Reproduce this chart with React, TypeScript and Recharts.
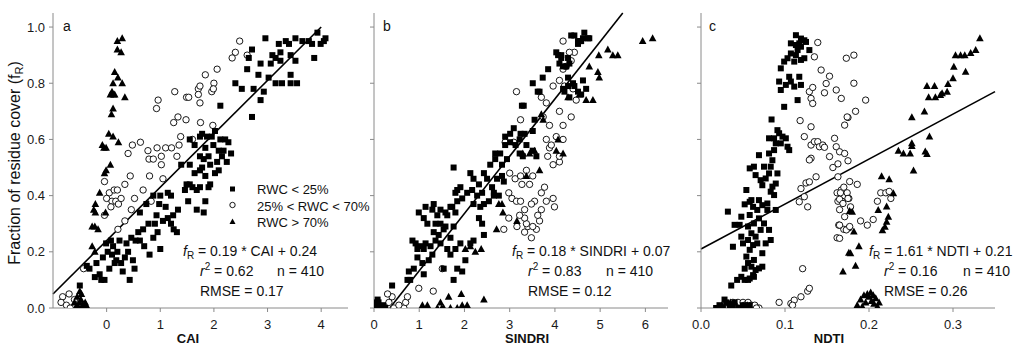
import React from 'react';
import { ScatterChart, Scatter, XAxis, YAxis, ReferenceLine } from 'recharts';

type Pt = [number, number];

// panel a (CAI)
const squaresA: Pt[] = [
  [-0.5, 0.08], [-0.37, 0.15], [-0.32, 0.14], [-0.22, 0.11], [-0.1, 0.1], [-0.04, 0.1], [-0.19, 0.16], [-0.07, 0.18],
  [0.02, 0.2], [0.12, 0.22], [-0.01, 0.23], [0.08, 0.24], [0.18, 0.17], [0.27, 0.16], [0.34, 0.18], [0.24, 0.24],
  [0.37, 0.23], [0.46, 0.25], [0.54, 0.24], [0.59, 0.27], [0.62, 0.24], [0.68, 0.28], [0.78, 0.3], [0.8, 0.19],
  [0.9, 0.3], [1.0, 0.21], [0.87, 0.25], [0.93, 0.33], [1.05, 0.31], [1.14, 0.32], [1.24, 0.33], [1.33, 0.35],
  [1.31, 0.27], [1.2, 0.3], [0.62, 0.34], [0.74, 0.37], [0.87, 0.4], [0.98, 0.37], [1.0, 0.4], [1.14, 0.41],
  [1.2, 0.4], [1.39, 0.51], [1.49, 0.44], [1.52, 0.38], [1.46, 0.42], [1.55, 0.44], [1.6, 0.43], [1.68, 0.42],
  [1.74, 0.43], [1.55, 0.6], [1.64, 0.58], [1.74, 0.61], [1.55, 0.51], [1.64, 0.48], [1.74, 0.49], [1.74, 0.54],
  [1.68, 0.35], [0.43, 0.1], [0.52, 0.14], [0.49, 0.17], [0.3, 0.13], [0.15, 0.16], [-0.13, 0.12], [0.1, 0.19],
  [0.2, 0.2], [0.4, 0.2], [0.7, 0.22], [0.95, 0.27], [1.1, 0.36], [1.25, 0.28], [0.05, 0.14],
  [1.78, 0.62], [1.87, 0.61], [1.96, 0.61], [2.02, 0.63], [2.12, 0.6], [2.21, 0.6], [2.27, 0.59], [1.84, 0.57],
  [1.99, 0.58], [2.09, 0.56], [2.18, 0.56], [2.32, 0.55], [1.81, 0.53], [1.9, 0.54], [2.06, 0.52], [2.15, 0.54],
  [2.24, 0.52], [1.78, 0.5], [1.93, 0.51], [1.84, 0.47], [2.02, 0.48], [1.93, 0.44], [1.9, 0.43], [2.09, 0.49],
  [1.84, 0.38], [1.81, 0.34], [2.12, 0.72], [2.71, 0.68], [2.87, 0.74], [2.93, 0.77], [2.74, 0.78], [3.02, 0.82],
  [2.4, 0.8], [2.52, 0.78], [2.62, 0.85], [2.65, 0.89], [2.87, 0.87], [2.83, 0.83], [2.71, 0.92], [2.96, 0.96],
  [3.09, 0.9], [3.06, 0.87], [3.15, 0.89], [3.24, 0.88], [3.15, 0.8], [3.27, 0.8], [3.43, 0.8], [3.55, 0.8],
  [3.43, 0.83], [3.52, 0.88], [3.43, 0.9], [3.24, 0.91], [3.21, 0.94], [3.4, 0.94], [3.34, 0.95], [3.52, 0.96],
  [3.65, 0.95], [3.77, 0.95], [3.87, 0.89], [3.83, 0.94], [3.93, 0.98], [3.99, 0.94], [4.05, 0.95], [4.08, 0.96],
];
const circlesA: Pt[] = [
  [-0.82, 0.04], [-0.85, 0.02], [-0.75, 0.01], [-0.68, 0.0], [-0.6, 0.03], [-0.7, 0.05], [-0.43, 0.14], [-0.04, 0.45],
  [0.05, 0.41], [0.14, 0.42], [0.2, 0.42], [0.0, 0.39], [0.1, 0.38], [0.17, 0.38], [0.22, 0.37], [0.08, 0.36],
  [-0.04, 0.33], [0.27, 0.39], [0.34, 0.31], [0.21, 0.28], [0.44, 0.47], [0.34, 0.44], [0.52, 0.39], [0.46, 0.35],
  [0.68, 0.42], [0.4, 0.55], [0.48, 0.58], [0.63, 0.59], [0.77, 0.56], [0.79, 0.53], [0.87, 0.53], [0.8, 0.47],
  [0.94, 0.57], [1.1, 0.57], [1.21, 0.57], [1.02, 0.54], [1.02, 0.51], [1.35, 0.58], [1.31, 0.54], [1.38, 0.61],
  [0.93, 0.71], [0.96, 0.74], [1.25, 0.66], [1.33, 0.68], [1.48, 0.67], [1.27, 0.77], [1.49, 0.75], [1.53, 0.75],
  [1.71, 0.78], [1.71, 0.76], [1.74, 0.73], [1.05, 0.46], [0.83, 0.38], [2.48, 0.95], [2.4, 0.91], [2.34, 0.89],
  [2.62, 0.9], [1.84, 0.83], [2.06, 0.85], [2.0, 0.8], [1.96, 0.77], [1.99, 0.78], [1.74, 0.79], [1.98, 0.65],
  [1.6, 0.6], [1.75, 0.66],
];
const trianglesA: Pt[] = [
  [0.29, 0.96], [0.2, 0.95], [0.2, 0.92], [0.27, 0.91], [0.15, 0.84], [0.21, 0.82], [0.29, 0.8], [0.12, 0.8],
  [0.07, 0.76], [0.15, 0.76], [0.34, 0.75], [0.12, 0.71], [0.09, 0.69], [0.04, 0.62], [0.12, 0.61], [0.22, 0.59],
  [-0.08, 0.58], [-0.01, 0.57], [-0.05, 0.57], [0.07, 0.51], [-0.01, 0.49], [-0.04, 0.48], [-0.13, 0.41],
  [-0.21, 0.37], [-0.24, 0.35], [-0.02, 0.34], [-0.21, 0.34], [-0.27, 0.29], [-0.16, 0.28], [-0.22, 0.29],
  [-0.27, 0.22], [-0.22, 0.2], [0.1, 0.77], [0.13, 0.76],
  [-0.6, 0.02], [-0.55, 0.04], [-0.5, 0.06], [-0.48, 0.03], [-0.45, 0.01], [-0.42, 0.0], [-0.52, 0.0], [-0.58, 0.0],
  [-0.47, 0.05], [-0.4, 0.02], [-0.38, 0.01], [-0.55, 0.01], [-0.5, 0.02],
];

// panel b (SINDRI)
const squaresB: Pt[] = [
  [0.02, 0.0], [0.06, 0.01], [0.1, 0.02], [0.15, 0.0], [0.2, 0.01], [0.08, 0.03], [0.0, 0.02], [0.12, 0.0], [0.25, 0.0],
  [0.4, 0.08], [0.74, 0.1], [0.8, 0.1], [0.77, 0.13], [0.88, 0.14], [0.96, 0.18], [1.07, 0.16], [1.1, 0.12],
  [1.1, 0.21], [1.21, 0.17], [1.29, 0.19], [0.96, 0.21], [0.85, 0.24], [0.92, 0.23], [1.03, 0.22], [1.14, 0.23],
  [1.25, 0.22], [1.36, 0.24], [1.32, 0.27], [1.43, 0.26], [1.54, 0.28], [1.47, 0.23], [1.62, 0.21], [1.69, 0.25],
  [1.36, 0.3], [1.47, 0.3], [1.58, 0.29], [1.76, 0.29], [1.29, 0.35], [1.4, 0.33], [1.47, 0.35], [1.62, 0.33],
  [1.73, 0.36], [1.8, 0.34], [0.99, 0.34], [1.1, 0.32], [1.18, 0.3], [1.14, 0.36], [1.32, 0.37], [1.58, 0.34],
  [1.69, 0.36], [1.84, 0.38], [1.95, 0.39], [1.8, 0.41], [1.91, 0.43], [2.06, 0.41], [2.17, 0.42], [2.28, 0.4],
  [2.39, 0.41], [2.2, 0.37], [2.35, 0.36], [2.43, 0.37], [2.32, 0.32], [2.39, 0.3], [2.43, 0.26], [1.8, 0.21],
  [1.91, 0.23], [1.84, 0.14], [1.95, 0.13], [2.02, 0.17], [2.13, 0.23], [2.2, 0.24], [1.69, 0.19], [1.76, 0.1],
  [1.54, 0.14], [1.76, 0.5], [1.84, 0.42], [2.13, 0.48], [2.2, 0.46], [2.32, 0.44], [2.43, 0.48], [2.5, 0.46],
  [2.61, 0.43], [2.65, 0.41], [2.76, 0.4], [2.72, 0.46], [2.83, 0.47], [2.87, 0.45], [2.54, 0.38], [2.65, 0.4],
  [2.57, 0.51], [2.68, 0.53], [2.83, 0.51], [2.94, 0.53], [2.79, 0.55], [2.9, 0.58], [3.01, 0.59], [3.13, 0.58],
  [2.9, 0.61], [3.01, 0.62], [3.09, 0.64], [3.24, 0.62], [3.27, 0.72], [2.68, 0.55],
  [3.22, 0.6], [3.33, 0.62], [3.37, 0.58], [3.29, 0.54], [3.51, 0.56], [3.59, 0.54], [3.22, 0.55], [3.51, 0.63],
  [3.55, 0.67], [3.31, 0.72], [3.51, 0.8], [3.66, 0.77], [3.62, 0.77], [3.73, 0.82], [3.85, 0.85], [4.03, 0.91],
  [4.14, 0.89], [4.1, 0.87], [4.18, 0.86], [4.25, 0.86], [4.29, 0.89], [4.32, 0.87], [4.14, 0.9], [4.07, 0.9],
  [4.36, 0.97], [4.43, 0.97], [4.51, 0.95], [4.58, 0.95], [4.65, 0.98], [4.62, 0.96], [4.73, 0.96], [4.76, 0.96],
  [4.51, 0.94], [4.54, 0.95], [4.29, 0.79], [4.4, 0.8], [4.43, 0.79], [4.51, 0.77], [4.62, 0.81], [4.58, 0.76],
  [4.69, 0.78], [4.18, 0.78], [4.21, 0.77], [4.32, 0.75], [4.29, 0.82],
];
const circlesB: Pt[] = [
  [0.22, 0.0], [0.33, 0.02], [0.4, 0.04], [0.44, 0.0], [0.66, 0.0], [0.7, 0.02], [0.74, 0.04], [0.55, 0.01], [0.3, 0.05],
  [0.99, 0.07], [1.31, 0.06], [1.51, 0.14], [2.87, 0.28], [2.98, 0.32], [3.16, 0.29], [3.15, 0.77], [3.24, 0.67],
  [2.9, 0.59], [3.09, 0.59], [3.0, 0.48], [3.12, 0.46], [3.24, 0.47], [3.27, 0.44], [2.98, 0.41], [3.05, 0.39],
  [3.15, 0.38], [3.24, 0.38],
  [3.48, 0.25], [3.33, 0.27], [3.4, 0.29], [3.59, 0.28], [3.51, 0.29], [3.37, 0.3], [3.66, 0.31], [3.33, 0.32],
  [3.62, 0.33], [3.7, 0.35], [3.81, 0.38], [3.55, 0.38], [3.48, 0.37], [3.7, 0.41], [3.77, 0.43], [3.96, 0.39],
  [3.99, 0.36], [3.33, 0.35], [3.22, 0.33], [3.51, 0.47], [3.44, 0.44], [3.37, 0.49], [3.96, 0.51], [4.1, 0.52],
  [3.84, 0.54], [3.88, 0.57], [4.1, 0.54], [3.81, 0.6], [3.92, 0.58], [4.18, 0.6], [4.03, 0.61], [3.88, 0.65],
  [4.18, 0.65], [4.36, 0.68], [4.1, 0.7], [3.7, 0.75], [3.81, 0.73], [3.74, 0.68], [3.96, 0.79], [4.1, 0.81],
  [4.21, 0.79], [4.4, 0.78], [4.47, 0.74], [4.18, 0.85], [4.25, 0.86], [4.36, 0.88], [4.43, 0.91], [4.18, 0.95],
  [4.32, 0.91],
];
const trianglesB: Pt[] = [
  [1.07, 0.01], [1.18, 0.01], [1.47, 0.02], [1.54, 0.0], [1.65, 0.04], [1.69, 0.0], [1.84, 0.0], [1.93, 0.05],
  [1.95, 0.01], [2.06, 0.01], [2.43, 0.03], [1.4, 0.0], [1.5, 0.0],
  [2.02, 0.21], [2.24, 0.2], [2.37, 0.21], [2.13, 0.22], [2.71, 0.28], [2.85, 0.34], [3.16, 0.31], [2.76, 0.37],
  [2.83, 0.37], [3.66, 0.49], [3.37, 0.47], [3.29, 0.55], [3.44, 0.55], [3.55, 0.56], [4.03, 0.56], [4.07, 0.6],
  [4.18, 0.55], [3.7, 0.69], [3.74, 0.67], [4.29, 0.75], [4.54, 0.76], [4.69, 0.74], [4.84, 0.74], [4.76, 0.86],
  [4.95, 0.84], [4.98, 0.82], [4.97, 0.9], [5.17, 0.92], [5.28, 0.9], [5.39, 0.9], [5.94, 0.95], [6.16, 0.96],
];

// panel c (NDTI)
const squaresC: Pt[] = [
  [0.018, 0.0], [0.022, 0.01], [0.026, 0.0], [0.03, 0.02], [0.034, 0.01], [0.038, 0.0], [0.04, 0.02], [0.045, 0.0],
  [0.05, 0.01], [0.055, 0.0], [0.058, 0.01], [0.028, 0.03],
  [0.036, 0.08], [0.043, 0.1], [0.052, 0.1], [0.058, 0.105], [0.062, 0.117], [0.065, 0.135], [0.06, 0.147],
  [0.052, 0.14], [0.056, 0.16], [0.054, 0.183], [0.058, 0.207], [0.063, 0.171], [0.069, 0.141], [0.073, 0.147],
  [0.05, 0.23], [0.056, 0.242], [0.062, 0.224], [0.067, 0.23], [0.048, 0.254], [0.06, 0.266], [0.065, 0.254],
  [0.071, 0.278], [0.056, 0.29], [0.063, 0.301], [0.069, 0.319], [0.075, 0.301], [0.081, 0.278], [0.083, 0.242],
  [0.04, 0.296], [0.046, 0.296], [0.048, 0.325], [0.058, 0.331], [0.067, 0.349], [0.073, 0.366], [0.079, 0.372],
  [0.062, 0.36], [0.032, 0.343], [0.038, 0.218], [0.052, 0.369], [0.06, 0.384], [0.069, 0.384], [0.079, 0.349],
  [0.089, 0.349], [0.077, 0.23], [0.073, 0.195], [0.063, 0.111], [0.056, 0.1], [0.048, 0.111],
  [0.054, 0.42], [0.058, 0.378], [0.065, 0.473], [0.071, 0.455], [0.073, 0.437], [0.077, 0.461], [0.081, 0.479],
  [0.075, 0.503], [0.083, 0.503], [0.085, 0.526], [0.081, 0.55], [0.087, 0.562], [0.089, 0.586], [0.087, 0.604],
  [0.081, 0.604], [0.093, 0.622], [0.097, 0.61], [0.101, 0.604], [0.091, 0.633], [0.095, 0.586], [0.103, 0.574],
  [0.105, 0.562], [0.085, 0.432], [0.083, 0.414], [0.087, 0.402], [0.089, 0.443], [0.091, 0.479], [0.069, 0.544],
  [0.063, 0.503], [0.058, 0.497], [0.084, 0.671],
  [0.099, 0.716], [0.115, 0.74], [0.095, 0.776], [0.093, 0.806], [0.101, 0.794], [0.105, 0.823], [0.107, 0.806],
  [0.111, 0.788], [0.119, 0.794], [0.117, 0.823], [0.095, 0.853], [0.099, 0.877], [0.103, 0.889], [0.107, 0.906],
  [0.113, 0.9], [0.111, 0.877], [0.119, 0.883], [0.123, 0.889], [0.115, 0.918], [0.119, 0.93], [0.117, 0.942],
  [0.113, 0.936], [0.107, 0.942], [0.113, 0.971], [0.119, 0.959], [0.123, 0.953], [0.125, 0.947], [0.129, 0.918],
];
const circlesC: Pt[] = [
  [0.032, 0.0], [0.038, 0.02], [0.044, 0.02], [0.05, 0.02], [0.056, 0.02], [0.06, 0.01], [0.064, 0.01], [0.069, 0.0],
  [0.052, 0.01], [0.066, 0.0], [0.04, 0.01],
  [0.093, 0.02], [0.107, 0.016], [0.111, 0.028], [0.109, 0.01], [0.119, 0.04], [0.127, 0.06], [0.129, 0.07],
  [0.121, 0.14], [0.117, 0.378], [0.123, 0.396], [0.119, 0.425], [0.125, 0.445], [0.129, 0.449], [0.127, 0.36],
  [0.137, 0.467], [0.118, 0.667], [0.131, 0.645], [0.123, 0.61], [0.131, 0.58], [0.135, 0.592], [0.139, 0.592],
  [0.141, 0.574], [0.145, 0.58], [0.147, 0.572], [0.131, 0.533], [0.129, 0.527], [0.153, 0.539], [0.159, 0.604],
  [0.161, 0.574], [0.165, 0.556], [0.171, 0.55], [0.175, 0.524], [0.163, 0.513], [0.157, 0.5], [0.163, 0.467],
  [0.167, 0.42], [0.177, 0.45], [0.129, 0.77], [0.133, 0.785], [0.131, 0.746], [0.133, 0.728], [0.147, 0.766],
  [0.149, 0.799], [0.153, 0.825], [0.143, 0.847], [0.161, 0.776], [0.167, 0.746], [0.175, 0.678], [0.171, 0.651],
  [0.139, 0.945], [0.135, 0.894], [0.173, 0.889], [0.182, 0.9], [0.182, 0.8], [0.196, 0.74], [0.184, 0.7],
  [0.174, 0.68], [0.162, 0.41], [0.166, 0.41], [0.17, 0.43], [0.174, 0.41], [0.176, 0.39], [0.163, 0.38],
  [0.168, 0.38], [0.186, 0.44], [0.19, 0.31], [0.198, 0.295], [0.205, 0.315], [0.21, 0.38], [0.214, 0.41],
  [0.22, 0.41], [0.224, 0.415], [0.226, 0.39], [0.162, 0.25], [0.164, 0.295], [0.17, 0.28], [0.176, 0.285],
  [0.178, 0.36], [0.165, 0.387], [0.169, 0.372], [0.175, 0.39], [0.165, 0.35], [0.171, 0.325], [0.165, 0.295],
  [0.173, 0.278], [0.165, 0.248], [0.177, 0.29],
];
const trianglesC: Pt[] = [
  [0.332, 0.96], [0.303, 0.9], [0.309, 0.9], [0.314, 0.9], [0.321, 0.908], [0.327, 0.918], [0.301, 0.859],
  [0.315, 0.841], [0.3, 0.818], [0.294, 0.797], [0.293, 0.77], [0.285, 0.758], [0.279, 0.75], [0.287, 0.764],
  [0.271, 0.75], [0.269, 0.79], [0.278, 0.79], [0.266, 0.699], [0.251, 0.679], [0.272, 0.61], [0.251, 0.586],
  [0.251, 0.577], [0.235, 0.56], [0.241, 0.55], [0.249, 0.55], [0.267, 0.557], [0.269, 0.548], [0.253, 0.489],
  [0.215, 0.469], [0.224, 0.458], [0.229, 0.408], [0.211, 0.349], [0.221, 0.361], [0.223, 0.325], [0.221, 0.307],
  [0.219, 0.289], [0.216, 0.277], [0.18, 0.343], [0.182, 0.272], [0.188, 0.22], [0.184, 0.15], [0.176, 0.197],
  [0.178, 0.195], [0.177, 0.345], [0.169, 0.13],
  [0.186, 0.01], [0.19, 0.03], [0.194, 0.045], [0.196, 0.02], [0.2, 0.04], [0.203, 0.025], [0.206, 0.015],
  [0.208, 0.035], [0.21, 0.005], [0.212, 0.02], [0.198, 0.05], [0.202, 0.055], [0.192, 0.005], [0.205, 0.045],
  [0.025, 0.01], [0.035, 0.02], [0.045, 0.0], [0.055, 0.01],
];

// regression lines (end points as drawn)
const fitA: Pt[] = [[-1, 0.05], [4, 1.0]];
const fitB: Pt[] = [[0.35, 0], [5.5, 1.05]];
const fitC: Pt[] = [[0, 0.21], [0.35, 0.77]];

const yTicks = [0, 0.2, 0.4, 0.6, 0.8, 1.0];
const xTicksA = [0, 1, 2, 3, 4];
const xTicksB = [0, 1, 2, 3, 4, 5, 6];
const xTicksC = [0, 0.1, 0.2, 0.3];

const AXIS = '#8a8a8a';
const FONT = '"Liberation Sans", Arial, sans-serif';

const pts = (a: Pt[]) => a.map(([x, y]) => ({ x, y }));

const Square = (p: any) => <rect x={p.cx - 3} y={p.cy - 3} width={6} height={6} fill="#000" />;
const Ring = (p: any) => <circle cx={p.cx} cy={p.cy} r={3.2} fill="#fff" stroke="#000" strokeWidth={0.9} />;
const Tri = (p: any) => (
  <polygon points={`${p.cx},${p.cy - 4} ${p.cx - 3.8},${p.cy + 3} ${p.cx + 3.8},${p.cy + 3}`} fill="#000" />
);

interface PanelProps {
  left: number;
  width: number;
  margin: { top: number; right: number; bottom: number; left: number };
  yWidth: number;
  showY: boolean;
  xDomain: [number, number];
  xTicks: number[];
  xFmt: (v: number) => string;
  squares: Pt[];
  circles: Pt[];
  triangles: Pt[];
  fit: Pt[];
}

function Panel(p: PanelProps) {
  return (
    <div style={{ position: 'absolute', left: p.left, top: 0 }}>
      <ScatterChart width={p.width} height={357} margin={p.margin}>
        <XAxis
          type="number"
          dataKey="x"
          domain={p.xDomain}
          ticks={p.xTicks}
          allowDataOverflow
          height={30}
          stroke={AXIS}
          tickSize={4}
          tickMargin={8}
          tick={{ fill: '#1a1a1a', fontSize: 13 }}
          tickFormatter={p.xFmt}
        />
        <YAxis
          type="number"
          dataKey="y"
          domain={[0, 1.05]}
          ticks={yTicks}
          allowDataOverflow
          width={p.yWidth}
          stroke={AXIS}
          tickSize={4}
          tickMargin={4}
          tick={{ fill: '#1a1a1a', fontSize: 13 }}
          tickFormatter={(v: number) => (p.showY ? v.toFixed(1) : '')}
        />
        <Scatter data={pts(p.circles)} shape={Ring} isAnimationActive={false} />
        <Scatter data={pts(p.squares)} shape={Square} isAnimationActive={false} />
        <Scatter data={pts(p.triangles)} shape={Tri} isAnimationActive={false} />
        <ReferenceLine
          segment={p.fit.map(([x, y]) => ({ x, y }))}
          stroke="#000"
          strokeWidth={1.6}
          ifOverflow="visible"
        />
      </ScatterChart>
    </div>
  );
}

function Equation(props: { x: number; rx: number; nx: number; slope: string; name: string; icpt: string; r2: string; rmse: string }) {
  const { x, rx, nx } = props;
  return (
    <g fontSize={14} fill="#111">
      <text x={x} y={256}>
        <tspan fontStyle="italic">f</tspan>
        <tspan fontSize={10} dy={3}>R</tspan>
        <tspan dy={-3}>{` = ${props.slope} * ${props.name} + ${props.icpt}`}</tspan>
      </text>
      <text x={rx} y={276}>
        <tspan fontStyle="italic">r</tspan>
        <tspan fontSize={10} dy={-6}>2</tspan>
        <tspan dy={6}>{` = ${props.r2}`}</tspan>
      </text>
      <text x={nx} y={276}>n = 410</text>
      <text x={rx} y={296}>{`RMSE = ${props.rmse}`}</text>
    </g>
  );
}

export default function App() {
  return (
    <div style={{ position: 'absolute', left: 0, top: 0, width: 1024, height: 357, background: '#fff', fontFamily: FONT }}>
      <Panel
        left={0}
        width={380}
        margin={{ top: 13, right: 32, bottom: 19, left: 13 }}
        yWidth={40}
        showY
        xDomain={[-1, 4.5]}
        xTicks={xTicksA}
        xFmt={(v) => String(v)}
        squares={squaresA}
        circles={circlesA}
        triangles={trianglesA}
        fit={fitA}
      />
      <Panel
        left={360}
        width={320}
        margin={{ top: 13, right: 12, bottom: 19, left: 4 }}
        yWidth={10}
        showY={false}
        xDomain={[0, 6.5]}
        xTicks={xTicksB}
        xFmt={(v) => String(v)}
        squares={squaresB}
        circles={circlesB}
        triangles={trianglesB}
        fit={fitB}
      />
      <Panel
        left={686}
        width={338}
        margin={{ top: 13, right: 29, bottom: 19, left: 5 }}
        yWidth={10}
        showY={false}
        xDomain={[0, 0.35]}
        xTicks={xTicksC}
        xFmt={(v) => v.toFixed(1)}
        squares={squaresC}
        circles={circlesC}
        triangles={trianglesC}
        fit={fitC}
      />
      <svg width={1024} height={357} style={{ position: 'absolute', left: 0, top: 0, pointerEvents: 'none' }}>
        <text transform="translate(20,163) rotate(-90)" textAnchor="middle" fontSize={16} fill="#111">
          Fraction of residue cover (f<tspan fontSize={11} dy={3}>R</tspan>
          <tspan dy={-3}>)</tspan>
        </text>
        <g fontSize={13} fontWeight="bold" fill="#111" textAnchor="middle">
          <text x={188} y={343}>CAI</text>
          <text x={527} y={343}>SINDRI</text>
          <text x={829} y={343}>NDTI</text>
        </g>
        <g fontSize={14} fill="#111">
          <text x={63} y={31}>a</text>
          <text x={383} y={31}>b</text>
          <text x={709} y={31}>c</text>
        </g>
        <g fontSize={13} fill="#111">
          <rect x={230} y={186.5} width={5} height={5} fill="#000" />
          <text x={257} y={194}>RWC &lt; 25%</text>
          <circle cx={232.5} cy={205} r={2.7} fill="#fff" stroke="#000" strokeWidth={0.9} />
          <text x={257} y={210.5}>25% &lt; RWC &lt; 70%</text>
          <polygon points="232.5,218.5 229.5,224 235.5,224" fill="#000" />
          <text x={257} y={227}>RWC &gt; 70%</text>
        </g>
        <Equation x={183} rx={200} nx={277} slope="0.19" name="CAI" icpt="0.24" r2="0.62" rmse="0.17" />
        <Equation x={512} rx={528} nx={606} slope="0.18" name="SINDRI" icpt="0.07" r2="0.83" rmse="0.12" />
        <Equation x={869} rx={884} nx={963} slope="1.61" name="NDTI" icpt="0.21" r2="0.16" rmse="0.26" />
      </svg>
    </div>
  );
}
